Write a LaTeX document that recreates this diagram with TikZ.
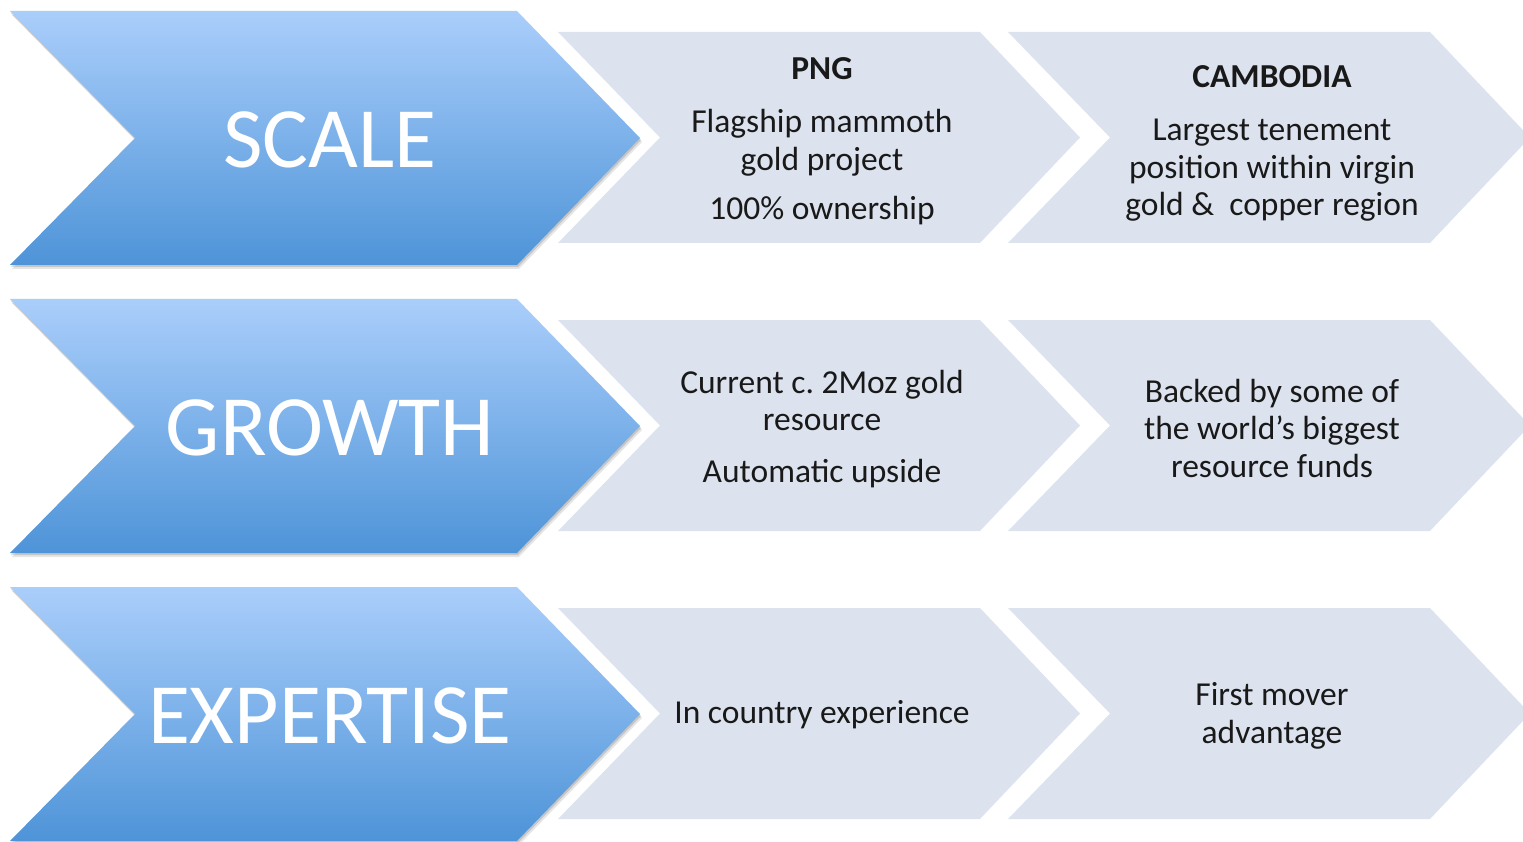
\documentclass[tikz,border=0pt]{standalone}
\usepackage{fontspec}
\setmainfont{Carlito}
\frenchspacing
\definecolor{bluetop}{RGB}{170,206,251}
\definecolor{bluebot}{RGB}{78,148,216}
\definecolor{graybox}{RGB}{220,227,238}
\definecolor{txt}{RGB}{25,25,25}
\tikzset{
  bigtext/.style={text=white,font=\fontsize{86}{86}\selectfont,inner sep=0pt},
  smalltext/.style={text=txt,font=\fontsize{33.5}{37.5}\selectfont,align=center,inner sep=0pt},
  grayfill/.style={fill=graybox,draw=none},
}
\newcommand{\bluechev}[1]{%
  \fill[black,opacity=0.10] (12,#1-123) -- (519,#1-123) -- (642,#1+4) -- (519,#1+131) -- (12,#1+131) -- (137,#1+4) -- cycle;
  \fill[black,opacity=0.14] (11,#1-125) -- (518,#1-125) -- (641,#1+2) -- (518,#1+129) -- (11,#1+129) -- (136,#1+2) -- cycle;
  \shade[top color=bluetop,bottom color=bluebot] (10,#1-127) -- (517,#1-127) -- (640,#1) -- (517,#1+127) -- (10,#1+127) -- (135,#1) -- cycle;
}
\newcommand{\graychev}[2]{%
  \fill[grayfill] (#1,#2-105.5) -- (#1+422,#2-105.5) -- (#1+522,#2) -- (#1+422,#2+105.5) -- (#1,#2+105.5) -- (#1+102,#2) -- cycle;
}
\begin{document}
\begin{tikzpicture}[x=1pt,y=-1pt]
\useasboundingbox (0,0) rectangle (1523,842);
\clip (0,0) rectangle (1523,842);
% row 1
\graychev{558}{137.5}
\graychev{1008}{137.5}
\bluechev{138}
% row 2
\graychev{558}{425.5}
\graychev{1008}{425.5}
\bluechev{426}
% row 3
\graychev{558}{713.5}
\graychev{1008}{713.5}
\bluechev{714}

\node[bigtext] (scale) at (330,140) {SCALE};
\node[bigtext] (growth) at (330,428) {GROWTH};
\node[bigtext] (expertise) at (330,716) {EXPERTISE};

\node[smalltext,anchor=north] (png) at (822,57) {\textbf{PNG}\\[16pt]Flagship mammoth\\gold project\\[12pt]100\% ownership};
\node[smalltext,anchor=north] (cam) at (1272,65) {\textbf{CAMBODIA}\\[16pt]Largest tenement\\position within virgin\\gold \&\ \ copper region};
\node[smalltext] (cur) at (822,429) {Current c. 2Moz gold\\resource\\[14pt]Automatic upside};
\node[smalltext] (back) at (1272,428) {Backed by some of\\the world’s biggest\\resource funds};
\node[smalltext] (inc) at (822,715) {In country experience};
\node[smalltext] (first) at (1272,716) {First mover\\advantage};
\end{tikzpicture}
\end{document}
